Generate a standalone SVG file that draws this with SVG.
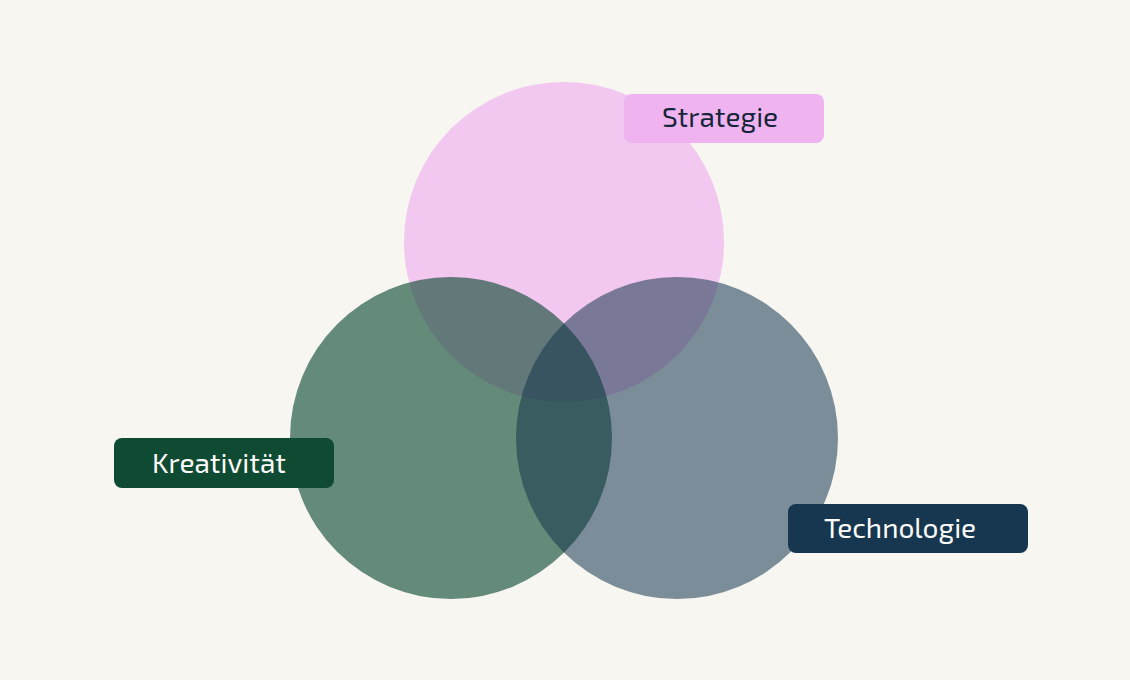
<svg xmlns="http://www.w3.org/2000/svg" width="1130" height="680" viewBox="0 0 1130 680">
<style>
.lbl{font-family:"Exo 2","Noto Sans","Liberation Sans",sans-serif;font-size:28px}
</style>
<rect width="1130" height="680" fill="#f7f6f1"/>
<g id="circle-strategie"><circle cx="564" cy="242" r="160" fill="#efb4f0" fill-opacity="0.7"/></g>
<g id="circle-kreativitaet"><circle cx="451" cy="438" r="161" fill="#0f4a33" fill-opacity="0.63"/></g>
<g id="circle-technologie"><circle cx="677" cy="438" r="161" fill="#16374f" fill-opacity="0.55"/></g>
<g id="connectors"></g>
<g id="label-strategie"><rect x="624" y="94" width="200" height="49" rx="8" fill="#efb4f0"/><text class="lbl" x="662" y="127" fill="#16263a">Strategie</text></g>
<g id="label-kreativitaet"><rect x="114" y="438" width="220" height="50" rx="8" fill="#0f4a33"/><text class="lbl" x="152" y="473" fill="#ffffff">Kreativität</text></g>
<g id="label-technologie"><rect x="788" y="504" width="240" height="49" rx="8" fill="#16374f"/><text class="lbl" x="824" y="538" fill="#ffffff">Technologie</text></g>
</svg>
